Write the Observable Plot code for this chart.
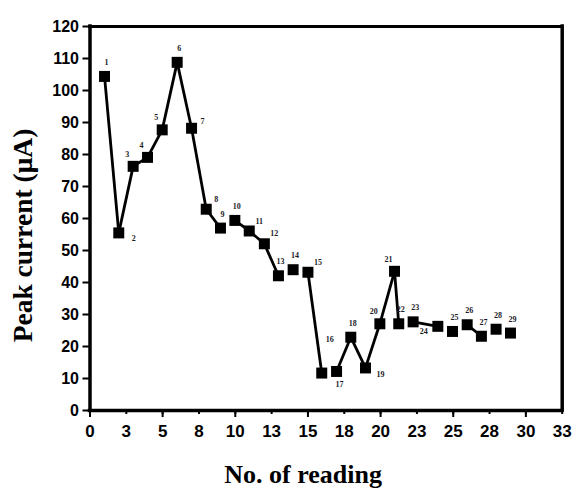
<!DOCTYPE html>
<html><head><meta charset="utf-8">
<script src="https://cdn.jsdelivr.net/npm/d3@7"></script>
<script src="https://cdn.jsdelivr.net/npm/@observablehq/plot@0.6"></script>
<style>
html,body{margin:0;padding:0;background:#fff;}
#chart svg{display:block;}
</style></head><body><div id="chart"></div>
<script>
// ---- data ----
const readings = [1,2,3,4,5,6,7,8,9,10,11,12,13,14,15,16,17,18,19,20,21,22,23,24,25,26,27,28,29];
const xPos = [1.0,1.98,2.97,3.96,4.97,6.0,6.99,8.0,8.98,9.97,10.96,12.0,12.97,13.98,15.0,15.95,16.97,17.95,18.96,19.95,20.96,21.25,22.24,23.94,24.95,25.96,26.94,27.95,28.94];
const peakCurrent = [104.4,55.5,76.3,79.1,87.7,108.8,88.2,62.9,57.0,59.4,56.1,52.1,42.1,44.0,43.2,11.7,12.2,22.9,13.3,27.1,43.5,27.1,27.7,26.3,24.7,26.8,23.2,25.4,24.2];
// pairs of readings joined by a line segment
const segments = [[1,2],[2,3],[3,4],[4,5],[5,6],[6,7],[7,8],[8,9],[10,11],[11,12],[12,13],[15,16],[17,18],[18,19],[19,20],[20,21],[21,22],[23,24],[26,27]];
const xTicks = [0,2.5,5,7.5,10,12.5,15,17.5,20,22.5,25,27.5,30,32.5];
const xMajorTicks = [0,5,10,15,20,25,30];
const yTicks = [0,10,20,30,40,50,60,70,80,90,100,110,120];
const xTitle = "No. of reading";
const yTitle = "Peak current (\u03bcA)";
// where each point's number sits relative to its marker (default "n")
const labelPlacement = {2:"se",3:"nw",4:"nw",5:"nw",7:"e",8:"ne",11:"ne",12:"ne",15:"ne",16:"high",17:"s",19:"se",20:"nw",21:"nw",24:"sw"};

// ---- drawing ----
const offsets = {n:[2,-14], ne:[10,-10], nw:[-6,-12], e:[11,-7], se:[15,6], s:[3,13], sw:[-14,5], high:[8,-34]};
const points = readings.map((r,i) => ({r, x: xPos[i], y: peakCurrent[i], place: labelPlacement[r] || "n"}));
const byReading = new Map(points.map(p => [p.r, p]));

const serif = "'Liberation Serif', 'Times New Roman', serif";
const sans = "'Liberation Sans', Arial, sans-serif";

const labelMarks = Object.keys(offsets).map(k => Plot.text(points.filter(p => p.place === k), {
  x: "x", y: "y", text: d => String(d.r), dx: offsets[k][0], dy: offsets[k][1],
  fontSize: 8, fontWeight: "bold", fontFamily: serif, fill: "#1c1c28"
}));

const chart = Plot.plot({
  width: 572, height: 489,
  marginLeft: 89.5, marginRight: 10.3, marginTop: 26, marginBottom: 79,
  style: {background: "#fff", color: "#000", fontFamily: sans},
  x: {domain: [0, 32.5]},
  y: {domain: [0, 120]},
  marks: [
    Plot.axisY(yTicks, {tickSize: 7, tickPadding: 4, fontSize: 16, fontWeight: "bold", fontFamily: sans, strokeWidth: 2, label: null}),
    Plot.axisX(xTicks, {tickSize: 4, tickPadding: 10, fontSize: 17, fontWeight: "bold", fontFamily: sans, strokeWidth: 2, tickFormat: d => String(Math.round(d)), label: null}),
    Plot.axisX(xMajorTicks, {tickSize: 7, strokeWidth: 2, tickFormat: () => "", label: null}),
    Plot.ruleY([120], {stroke: "#000", strokeWidth: 3, strokeLinecap: "square"}),
    Plot.ruleX([32.5], {stroke: "#000", strokeWidth: 3.5, strokeLinecap: "square"}),
    Plot.ruleX([0], {stroke: "#000", strokeWidth: 3.5, strokeLinecap: "square"}),
    Plot.ruleY([0], {stroke: "#000", strokeWidth: 3.5, strokeLinecap: "square"}),
    Plot.link(segments, {
      x1: d => byReading.get(d[0]).x, y1: d => byReading.get(d[0]).y,
      x2: d => byReading.get(d[1]).x, y2: d => byReading.get(d[1]).y,
      stroke: "#000", strokeWidth: 2.8
    }),
    Plot.dot(points, {x: "x", y: "y", symbol: "square", r: 6.2, fill: "#000", stroke: null}),
    ...labelMarks,
    Plot.text([xTitle], {frameAnchor: "bottom", textAnchor: "middle", dx: -23, dy: 72, fontSize: 26, fontWeight: "bold", fontFamily: serif, fill: "#000"}),
    Plot.text([yTitle], {frameAnchor: "left", textAnchor: "middle", lineAnchor: "middle", rotate: -90, dx: -67, dy: 17, fontSize: 27.5, fontWeight: "bold", fontFamily: serif, fill: "#000"})
  ]
});
document.getElementById("chart").append(chart);
</script></body></html>
